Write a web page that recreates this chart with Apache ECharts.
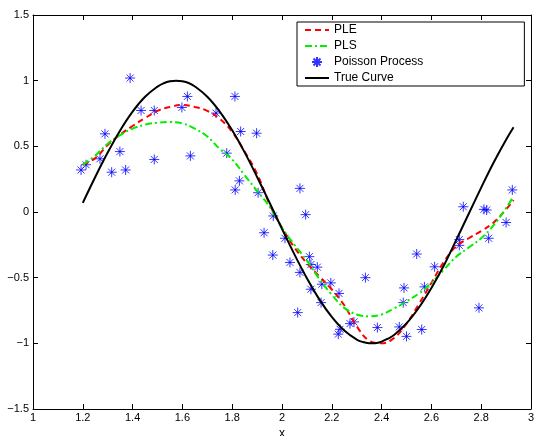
<!DOCTYPE html>
<html><head><meta charset="utf-8">
<script src="https://cdn.jsdelivr.net/npm/echarts@6/dist/echarts.min.js"></script>
<style>html,body{margin:0;padding:0;background:#fff}#c{width:537px;height:436px}</style>
</head><body><div id="c"></div>
<script>
// fitted curves sample positions
var curveX = [1.20,1.25,1.30,1.35,1.40,1.45,1.50,1.55,1.60,1.65,1.70,1.75,1.80,1.85,1.90,1.95,2.00,2.05,2.10,2.15,2.20,2.25,2.30,2.35,2.40,2.45,2.50,2.55,2.60,2.65,2.70,2.75,2.80,2.85,2.90,2.93];
var pleY = [0.36,0.41,0.51,0.59,0.655,0.715,0.77,0.80,0.815,0.80,0.77,0.71,0.61,0.46,0.29,0.06,-0.12,-0.27,-0.39,-0.49,-0.59,-0.71,-0.87,-0.98,-1.0,-0.96,-0.85,-0.70,-0.54,-0.38,-0.26,-0.20,-0.145,-0.08,0.02,0.09];
var plsY = [0.36,0.43,0.52,0.585,0.635,0.665,0.68,0.685,0.675,0.635,0.575,0.48,0.40,0.28,0.16,0.04,-0.12,-0.25,-0.37,-0.51,-0.63,-0.73,-0.78,-0.795,-0.78,-0.735,-0.68,-0.62,-0.54,-0.44,-0.34,-0.27,-0.20,-0.10,0.03,0.12];
// true curve sample positions
var trueX = [1.20,1.25,1.30,1.35,1.40,1.45,1.50,1.525,1.55,1.575,1.60,1.625,1.65,1.70,1.75,1.80,1.85,1.90,1.95,2.00,2.05,2.10,2.15,2.20,2.25,2.30,2.325,2.35,2.365,2.38,2.40,2.425,2.45,2.50,2.55,2.60,2.65,2.70,2.75,2.80,2.85,2.90,2.93];
var trueY = [0.07,0.267,0.453,0.621,0.764,0.877,0.955,0.980,0.995,1.0,0.995,0.982,0.956,0.878,0.765,0.622,0.454,0.267,0.071,-0.128,-0.323,-0.504,-0.665,-0.799,-0.903,-0.971,-0.990,-0.999,-1.0,-0.998,-0.987,-0.965,-0.936,-0.848,-0.727,-0.578,-0.407,-0.212,-0.013,0.186,0.377,0.551,0.646];
// Poisson process points
var starX = [1.193,1.213,1.269,1.289,1.316,1.349,1.372,1.39,1.434,1.487,1.487,1.598,1.62,1.632,1.735,1.778,1.811,1.812,1.829,1.834,1.898,1.904,1.928,1.963,1.965,2.012,2.032,2.063,2.072,2.072,2.095,2.11,2.116,2.116,2.142,2.157,2.16,2.196,2.226,2.229,2.233,2.273,2.289,2.335,2.383,2.471,2.487,2.49,2.50,2.541,2.561,2.572,2.613,2.712,2.712,2.728,2.791,2.811,2.822,2.83,2.90,2.925];
var starY = [0.32,0.36,0.405,0.595,0.303,0.46,0.32,1.02,0.773,0.773,0.40,0.796,0.88,0.427,0.753,0.448,0.88,0.168,0.237,0.613,0.60,0.147,-0.158,-0.328,-0.03,-0.20,-0.384,-0.766,0.18,-0.46,-0.02,-0.34,-0.40,-0.588,-0.42,-0.69,-0.55,-0.54,-0.93,-0.62,-0.893,-0.85,-0.837,-0.50,-0.88,-0.875,-0.69,-0.578,-0.947,-0.32,-0.895,-0.57,-0.417,-0.21,-0.254,0.04,-0.73,0.02,0.015,-0.20,-0.08,0.168];
var xTicks = {min:1, max:3, step:0.2};
var yTicks = {min:-1.5, max:1.5, step:0.5};
var names = ['PLE','PLS','Poisson Process','True Curve'];

function zip(a,b){return a.map(function(v,i){return [v,b[i]];});}
var font = 'Liberation Sans';
var star = 'path://M0,5L10,5M5,0L5,10M1.5,1.5L8.5,8.5M1.5,8.5L8.5,1.5';
function fmt(v){var s=String(parseFloat(v.toFixed(1)));return s.replace('-','\u2212');}
var baseX = {type:'value',min:xTicks.min,max:xTicks.max,interval:xTicks.step,splitLine:{show:false},
  axisLine:{onZero:false,lineStyle:{color:'#000',width:1}},axisTick:{inside:true,length:5,lineStyle:{color:'#000'}}};
var baseY = {type:'value',min:yTicks.min,max:yTicks.max,interval:yTicks.step,splitLine:{show:false},
  axisLine:{onZero:false,lineStyle:{color:'#000',width:1}},axisTick:{inside:true,length:5,lineStyle:{color:'#000'}}};
var clear = 'rgba(0,0,0,0)';
var chart = echarts.init(document.getElementById('c'),null,{renderer:'canvas'});
chart.setOption({
  animation:false,
  backgroundColor:'#fff',
  grid:{left:33,right:6,top:15,bottom:27,containLabel:false,outerBoundsMode:'none'},
  xAxis:[
    Object.assign({},baseX,{position:'bottom',name:'x',nameLocation:'middle',nameGap:14,
      nameTextStyle:{fontFamily:font,fontSize:12,color:'#000'},
      axisLabel:{fontFamily:font,fontSize:11,color:'#000',margin:3,formatter:fmt}}),
    Object.assign({},baseX,{position:'top',axisLabel:{show:false}})
  ],
  yAxis:[
    Object.assign({},baseY,{position:'left',axisLabel:{fontFamily:font,fontSize:11,color:'#000',margin:4,formatter:fmt}}),
    Object.assign({},baseY,{position:'right',axisLabel:{show:false}})
  ],
  legend:{
    orient:'vertical',left:297,top:22,
    data:names,
    backgroundColor:'#fff',borderColor:'#000',borderWidth:1,
    padding:[2,101,2,7],itemGap:4,itemWidth:24,itemHeight:10,
    textStyle:{fontFamily:font,fontSize:12,color:'#000'}
  },
  series:[
    {name:names[0],type:'line',symbol:'none',smooth:0.4,data:zip(curveX,pleY),
      lineStyle:{color:'#ff0000',width:2,type:[6,4]},itemStyle:{color:clear,borderWidth:0}},
    {name:names[1],type:'line',symbol:'none',smooth:0.4,data:zip(curveX,plsY),
      lineStyle:{color:'#00ee00',width:2,type:[7,3,2,3]},itemStyle:{color:clear,borderWidth:0}},
    {name:names[2],type:'scatter',symbol:star,symbolSize:10,data:zip(starX,starY),
      itemStyle:{color:clear,borderColor:'#0000ff',borderWidth:1}},
    {name:names[3],type:'line',symbol:'none',smooth:0.4,data:zip(trueX,trueY),
      lineStyle:{color:'#000',width:2},itemStyle:{color:clear,borderWidth:0}}
  ]
});
</script></body></html>
